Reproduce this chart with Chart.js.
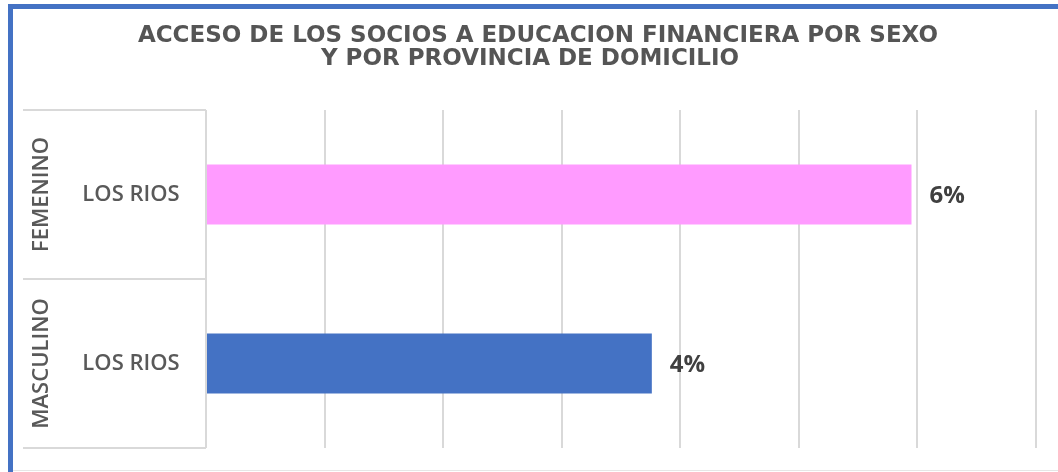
<!DOCTYPE html>
<html>
<head>
<meta charset="utf-8">
<script src="https://cdn.jsdelivr.net/npm/chart.js@4"></script>
<style>
    html, body { margin: 0; padding: 0; background: #ffffff; }
    #wrap { width: 1058px; height: 472px; position: relative; }
</style>
</head>
<body>
<div id="wrap"><canvas id="chart"></canvas></div>
<script>
// ======================= Data =======================
const titleLines = ["ACCESO DE LOS SOCIOS A EDUCACION FINANCIERA POR SEXO", "Y POR PROVINCIA DE DOMICILIO"];
const groups = ["FEMENINO", "MASCULINO"];
const provinces = ["LOS RIOS", "LOS RIOS"];
const values = [5.95, 3.76];            // percent
const barColors = ["#FF9BFF", "#4472C4"];
const axisMax = 7;

// ======================= Plugins =======================
const framePlugin = {
    id: "frame",
    beforeDraw(chart) {
        const ctx = chart.ctx;
        ctx.save();
        ctx.fillStyle = "#ffffff";
        ctx.fillRect(0, 0, chart.width, chart.height);
        // blue outline (left + top visible)
        ctx.fillStyle = "#4472C4";
        ctx.fillRect(8, 4, 5, chart.height - 4);
        ctx.fillRect(8, 4, chart.width - 8, 5);
        ctx.fillStyle = "#e6e6e6";
        ctx.fillRect(13, chart.height - 2, chart.width - 13, 1);

        // title, centred on the whole frame
        ctx.fillStyle = "#555555";
        ctx.font = "bold 23px 'DejaVu Sans', sans-serif";
        ctx.textAlign = "center";
        ctx.textBaseline = "middle";
        ctx.fillText(titleLines[0], 538, 36);
        ctx.fillText(titleLines[1], 530, 59);
        ctx.restore();
    }
};

const categoryPlugin = {
    id: "categoryBox",
    afterDraw(chart) {
        const ctx = chart.ctx;
        const y = chart.scales.y;
        const area = chart.chartArea;
        const boxLeft = 23;
        const half = (y.getPixelForValue(1) - y.getPixelForValue(0)) / 2;

        ctx.save();
        ctx.strokeStyle = "#d9d9d9";
        ctx.lineWidth = 2;
        for (let i = 0; i <= provinces.length; i++) {
            const py = i === 0 ? area.top : i === provinces.length ? area.bottom : y.getPixelForValue(i) - half;
            ctx.beginPath();
            ctx.moveTo(boxLeft, py);
            ctx.lineTo(area.left, py);
            ctx.stroke();
        }

        ctx.fillStyle = "#595959";
        ctx.textBaseline = "middle";
        ctx.textAlign = "center";
        ctx.font = "600 22px 'Open Sans', sans-serif";
        provinces.forEach((p, i) => {
            ctx.fillText(p, 131, y.getPixelForValue(i));
        });

        groups.forEach((g, i) => {
            ctx.save();
            ctx.translate(42, y.getPixelForValue(i));
            ctx.rotate(-Math.PI / 2);
            ctx.fillText(g, 0, 0);
            ctx.restore();
        });
        ctx.restore();
    }
};

const valueLabelPlugin = {
    id: "valueLabels",
    afterDatasetsDraw(chart) {
        const ctx = chart.ctx;
        const meta = chart.getDatasetMeta(0);
        ctx.save();
        ctx.fillStyle = "#404040";
        ctx.font = "bold 24px 'Open Sans', sans-serif";
        ctx.textAlign = "left";
        ctx.textBaseline = "middle";
        meta.data.forEach((bar, i) => {
            ctx.fillText(Math.round(values[i]) + "%", bar.x + 18, bar.y + 2);
        });
        ctx.restore();
    }
};

// ======================= Chart =======================
new Chart(document.getElementById("chart"), {
    type: "bar",
    data: {
        labels: provinces.map((p, i) => groups[i] + " " + p),
        datasets: [{
            data: values,
            backgroundColor: barColors,
            borderWidth: 0,
            categoryPercentage: 1,
            barPercentage: 0.355
        }]
    },
    options: {
        indexAxis: "y",
        responsive: true,
        maintainAspectRatio: false,
        animation: false,
        layout: {
            padding: { left: 206, right: 22, top: 110, bottom: 24 }
        },
        plugins: {
            legend: { display: false },
            tooltip: { enabled: false },
            title: { display: false }
        },
        scales: {
            x: {
                min: 0,
                max: axisMax,
                ticks: { display: false, stepSize: 1 },
                grid: { color: "#d9d9d9", lineWidth: 2, drawTicks: false },
                border: { display: false }
            },
            y: {
                ticks: { display: false },
                grid: { display: false, drawTicks: false },
                border: { display: false }
            }
        }
    },
    plugins: [framePlugin, categoryPlugin, valueLabelPlugin]
});
</script>
</body>
</html>
